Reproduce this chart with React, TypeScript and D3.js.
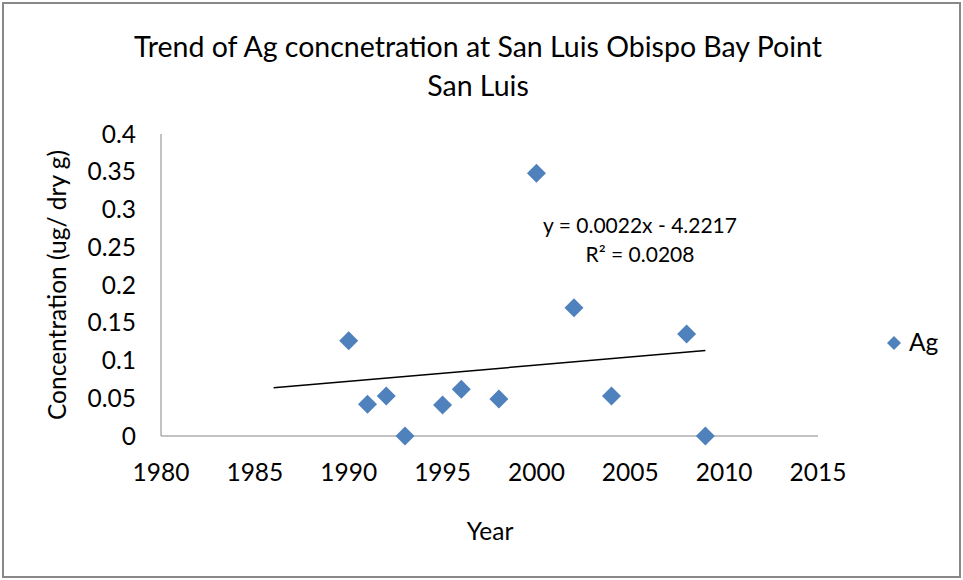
import React from "react";
import * as d3 from "d3";

const years = [1990, 1991, 1992, 1993, 1995, 1996, 1998, 2000, 2002, 2004, 2008, 2009];
const agValues = [0.126, 0.042, 0.053, 0, 0.041, 0.062, 0.049, 0.348, 0.17, 0.053, 0.135, 0];
const xTicks = [1980, 1985, 1990, 1995, 2000, 2005, 2010, 2015];
const yTicks = [0, 0.05, 0.1, 0.15, 0.2, 0.25, 0.3, 0.35, 0.4];
const trendRange = [1986, 2009];
const titleLines = ["Trend of Ag concnetration at San Luis Obispo Bay Point", "San Luis"];
const equationLines = ["y = 0.0022x - 4.2217", "R² = 0.0208"];
const seriesName = "Ag";

const W = 963;
const H = 580;
const FONT = "Lato, 'Open Sans', sans-serif";
const BLUE = "#4F81BD";
const AXIS = "#868686";
const TICK_FS = 24.5;

const diamond = (r: number) => `M0,${-r}L${r},0L0,${r}L${-r},0Z`;

export default function App() {
  const x = d3.scaleLinear().domain([1980, 2015]).range([161, 818]);
  const y = d3.scaleLinear().domain([0, 0.4]).range([436, 134]);

  const mx = d3.mean(years)!;
  const my = d3.mean(agValues)!;
  let sxy = 0, sxx = 0;
  years.forEach((yr, i) => {
    sxy += (yr - mx) * (agValues[i] - my);
    sxx += (yr - mx) * (yr - mx);
  });
  const slope = sxy / sxx;
  const icpt = my - slope * mx;
  const line = d3.line<number>().x((d) => x(d)).y((d) => y(slope * d + icpt));

  return (
    <svg width={W} height={H} style={{ position: "absolute", left: 0, top: 0, background: "#fff" }} fontFamily={FONT}>
      <rect x={3} y={3} width={957} height={574} fill="#fff" stroke="#888" strokeWidth={2} />
      {titleLines.map((t, i) => (
        <text key={t} x={478} y={57 + i * 39} textAnchor="middle" fontSize={28.5} fill="#000">
          {t}
        </text>
      ))}
      <line x1={x(1980)} x2={x(1980)} y1={y(0.4)} y2={y(0)} stroke={AXIS} strokeWidth={1} />
      <line x1={x(1980)} x2={x(2015)} y1={y(0)} y2={y(0)} stroke={AXIS} strokeWidth={1} />
      {yTicks.map((t) => (
        <text key={t} x={136} y={y(t) + 8.5} textAnchor="end" fontSize={TICK_FS} fill="#000">
          {d3.format("~g")(t)}
        </text>
      ))}
      {xTicks.map((t) => (
        <text key={t} x={x(t)} y={481} textAnchor="middle" fontSize={TICK_FS} fill="#000">
          {t}
        </text>
      ))}
      <text x={490} y={540} textAnchor="middle" fontSize={TICK_FS} fill="#000">Year</text>
      <text transform="translate(66,285) rotate(-90)" textAnchor="middle" fontSize={TICK_FS} fill="#000">
        Concentration (ug/ dry g)
      </text>
      <path d={line(trendRange) || ""} stroke="#000" strokeWidth={1.5} fill="none" />
      {years.map((yr, i) => (
        <path key={yr} d={diamond(9.5)} transform={`translate(${x(yr)},${y(agValues[i])})`} fill={BLUE} />
      ))}
      {equationLines.map((t, i) => (
        <text key={t} x={640} y={233 + i * 29} textAnchor="middle" fontSize={21} fill="#000">
          {t}
        </text>
      ))}
      <path d={diamond(7)} transform="translate(894,343)" fill={BLUE} />
      <text x={909} y={351} fontSize={TICK_FS} fill="#000">{seriesName}</text>
    </svg>
  );
}
